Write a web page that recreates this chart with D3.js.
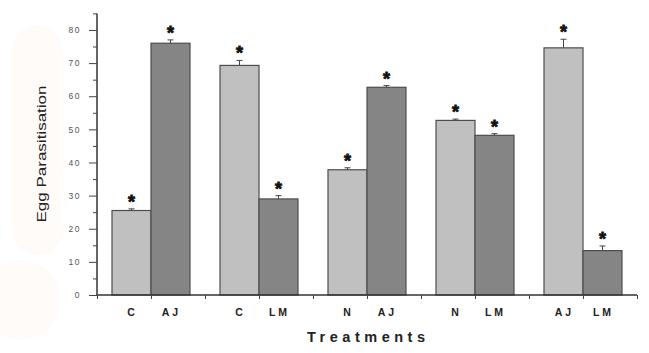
<!DOCTYPE html>
<html><head><meta charset="utf-8">
<script src="https://cdnjs.cloudflare.com/ajax/libs/d3/7.8.5/d3.min.js"></script>
<style>body{margin:0;background:#fff}svg{display:block}</style>
</head><body>
<svg id="c" width="649" height="353"></svg>
<script>
const lightLabels = ["C", "C", "N", "N", "AJ"];
const darkLabels  = ["AJ", "LM", "AJ", "LM", "LM"];
const lightValues = [25.5, 69.3, 37.8, 52.7, 74.6];
const darkValues  = [76.0, 29.0, 62.7, 48.2, 13.4];
const lightErr    = [0.5, 1.5, 0.6, 0.4, 2.6];
const darkErr     = [1.0, 1.0, 0.5, 0.5, 1.4];
const yTicks      = [0, 10, 20, 30, 40, 50, 60, 70, 80];
const yLabel = "Egg Parasitisation";
const xLabel = "Treatments";

const svg = d3.select("#c");
// faint watermark tint
svg.append("rect").attr("x",12).attr("y",25).attr("width",50).attr("height",230).attr("rx",25).attr("fill","#fefbf8");
svg.append("circle").attr("cx",20).attr("cy",300).attr("r",40).attr("fill","#fefbf8");

const x = d3.scaleLinear().domain([0, 10]).range([97, 637]);
const y = d3.scaleLinear().domain([0, 85]).range([295, 13.4]);
const bw = x(1) - x(0) - 15;

const g = svg.append("g");
lightValues.forEach((v, i) => {
  const c = 1 + 2 * i;
  const bars = [
    {x0: x(c) - bw, v: v, e: lightErr[i], fill: "#c0c0c0"},
    {x0: x(c), v: darkValues[i], e: darkErr[i], fill: "#858585"}
  ];
  bars.forEach(b => {
    g.append("rect").attr("x", b.x0).attr("y", y(b.v)).attr("width", bw)
      .attr("height", y(0) - y(b.v)).attr("fill", b.fill).attr("stroke", "#4d4d4d").attr("stroke-width", 1.2);
    const cx = b.x0 + bw / 2;
    g.append("line").attr("x1", cx).attr("x2", cx).attr("y1", y(b.v)).attr("y2", y(b.v + b.e)).attr("stroke", "#444").attr("stroke-width", 1);
    g.append("line").attr("x1", cx - 3).attr("x2", cx + 3).attr("y1", y(b.v + b.e)).attr("y2", y(b.v + b.e)).attr("stroke", "#444").attr("stroke-width", 1);
    g.append("text").attr("x", cx).attr("y", y(b.v + b.e) - 1).attr("text-anchor", "middle")
      .attr("font-family", "Liberation Sans, Arial, sans-serif").attr("font-weight", "bold").attr("font-size", 18)
      .attr("fill", "#111").attr("stroke", "#111").attr("stroke-width", 0.8).text("*");
  });
});

// y axis
const yAxis = d3.axisLeft(y).tickValues(d3.range(0, 86, 5)).tickSize(4).tickFormat("");
const ya = svg.append("g").attr("transform", "translate(97,0)").call(yAxis);
ya.select(".domain").attr("stroke", "#333").attr("stroke-width", 1.5).attr("d", `M-0,${y(85)}V${y(0)}`);
ya.selectAll(".tick line").attr("stroke", "#444").attr("x2", d => yTicks.includes(d) ? -8 : -4);
const yl = svg.append("g").attr("transform", "translate(97,0)").call(d3.axisLeft(y).tickValues(yTicks).tickSize(0).tickPadding(16));
yl.select(".domain").remove();
yl.selectAll("text").attr("font-family", "Liberation Sans, Arial, sans-serif").attr("font-size", 8.5).attr("fill", "#555").attr("letter-spacing", 1.5);

// x axis
const xa = svg.append("g").attr("transform", `translate(0,${y(0)})`).call(d3.axisBottom(x).ticks(10).tickSize(4).tickFormat(""));
xa.select(".domain").attr("stroke", "#333").attr("stroke-width", 1.5).attr("d", `M${x(0)},0H${x(10)}`);
xa.selectAll(".tick line").attr("stroke", "#444");

// category labels
lightValues.forEach((v, i) => {
  const c = 1 + 2 * i;
  [[x(c) - bw / 2, lightLabels[i]], [x(c) + bw / 2, darkLabels[i]]].forEach(([px, t]) => {
    svg.append("text").attr("x", px + 1).attr("y", 316).attr("text-anchor", "middle")
      .attr("font-family", "Liberation Sans, Arial, sans-serif").attr("font-weight", "bold").attr("font-size", 10.5)
      .attr("letter-spacing", 3).attr("fill", "#222").text(t);
  });
});

svg.append("text").attr("x", 366).attr("y", 342).attr("text-anchor", "middle")
  .attr("font-family", "Liberation Sans, Arial, sans-serif").attr("font-weight", "bold").attr("font-size", 14.5)
  .attr("textLength", 118).attr("lengthAdjust", "spacing").attr("fill", "#222").text(xLabel);

svg.append("text").attr("transform", "translate(46,154) rotate(-90)").attr("text-anchor", "middle")
  .attr("font-family", "Liberation Sans, Arial, sans-serif").attr("font-size", 13)
  .attr("textLength", 137).attr("lengthAdjust", "spacingAndGlyphs").attr("fill", "#222").text(yLabel);
</script>
</body></html>
